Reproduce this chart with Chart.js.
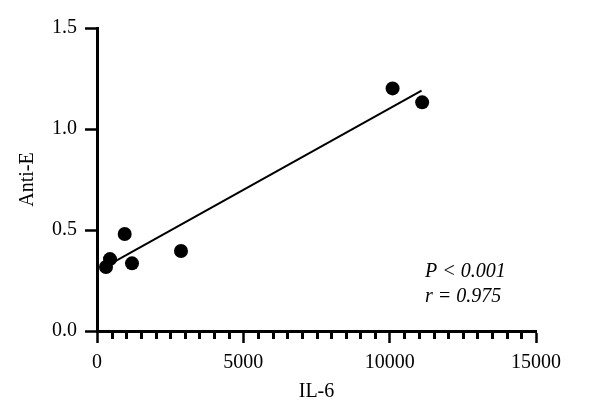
<!DOCTYPE html>
<html>
<head>
<meta charset="utf-8">
<script src="https://cdn.jsdelivr.net/npm/chart.js@4/dist/chart.umd.min.js"></script>
<style>
  html, body { margin: 0; padding: 0; background: #fff; }
  #wrap { width: 600px; height: 418px; }
</style>
</head>
<body>
<div id="wrap"><canvas id="c" width="600" height="418"></canvas></div>
<script>
// ---- data ----
const il6Values   = [307, 444, 946, 1196, 2870, 10100, 11110];
const antiEValues = [0.317, 0.356, 0.480, 0.335, 0.396, 1.201, 1.132];
const fitX = [536, 11090];
const fitY = [0.338, 1.190];
const xMajorTicks = [0, 5000, 10000, 15000];
const xMinorStep = 500;
const yTicks = [0.0, 0.5, 1.0, 1.5];
const statLines = ['P < 0.001', 'r = 0.975'];

const FONT = '"Liberation Serif", "DejaVu Serif", serif';

const scatterPts = il6Values.map((x, i) => ({ x: x, y: antiEValues[i] }));
const fitPts = fitX.map((x, i) => ({ x: x, y: fitY[i] }));
const isMajor = (v) => xMajorTicks.indexOf(v) !== -1;

// minor ticks + annotation text
const statsPlugin = {
  id: 'stats',
  afterDraw(chart) {
    const ctx = chart.ctx;
    const xs = chart.scales.x, ys = chart.scales.y;
    ctx.save();
    const y0 = ys.getPixelForValue(0);
    ctx.fillStyle = '#000';
    for (let v = xMinorStep; v < 15000; v += xMinorStep) {
      if (isMajor(v)) continue;
      const px = Math.round(xs.getPixelForValue(v));
      ctx.fillRect(px - 1, y0 + 1, 3, 7);
    }
    ctx.font = 'italic 20px ' + FONT;
    ctx.textAlign = 'left';
    ctx.textBaseline = 'middle';
    const ax = xs.getPixelForValue(11210);
    ctx.fillText(statLines[0], ax, ys.getPixelForValue(0.295));
    ctx.fillText(statLines[1], ax, ys.getPixelForValue(0.170));
    ctx.restore();
  }
};

new Chart(document.getElementById('c'), {
  type: 'scatter',
  data: {
    datasets: [
      {
        type: 'line',
        data: fitPts,
        borderColor: '#000',
        borderWidth: 2,
        pointRadius: 0,
        fill: false,
        order: 2
      },
      {
        type: 'scatter',
        data: scatterPts,
        backgroundColor: '#000',
        borderColor: '#000',
        borderWidth: 0,
        pointRadius: 7,
        order: 1
      }
    ]
  },
  options: {
    responsive: false,
    animation: false,
    events: [],
    layout: { padding: { left: 0, top: 28, right: 64, bottom: 0 } },
    plugins: { legend: { display: false }, tooltip: { enabled: false } },
    scales: {
      x: {
        type: 'linear',
        min: 0, max: 15000,
        afterBuildTicks: (s) => { s.ticks = xMajorTicks.map(v => ({ value: v })); },
        afterFit: (s) => { s.height = 87; },
        border: { display: true, color: '#000', width: 3 },
        grid: { display: true, drawOnChartArea: false, drawTicks: true, tickLength: 12, tickWidth: 2.5, tickColor: '#000' },
        ticks: { color: '#000', font: { family: FONT, size: 20 }, padding: 8, maxRotation: 0, callback: (v) => String(v) },
        title: { display: true, text: 'IL-6', color: '#000', font: { family: FONT, size: 20 }, padding: { top: 0, bottom: 14 } }
      },
      y: {
        type: 'linear',
        min: 0, max: 1.5,
        afterBuildTicks: (s) => { s.ticks = yTicks.map(v => ({ value: v })); },
        afterFit: (s) => { s.width = 97; },
        border: { display: true, color: '#000', width: 3 },
        grid: { display: true, drawOnChartArea: false, drawTicks: true, tickLength: 12, tickWidth: 2.5, tickColor: '#000' },
        ticks: { color: '#000', font: { family: FONT, size: 20 }, padding: 8, callback: (v) => Number(v).toFixed(1) },
        title: { display: true, text: 'Anti-E', color: '#000', font: { family: FONT, size: 20 }, padding: { top: 16, bottom: 0 } }
      }
    }
  },
  plugins: [statsPlugin]
});
</script>
</body>
</html>
